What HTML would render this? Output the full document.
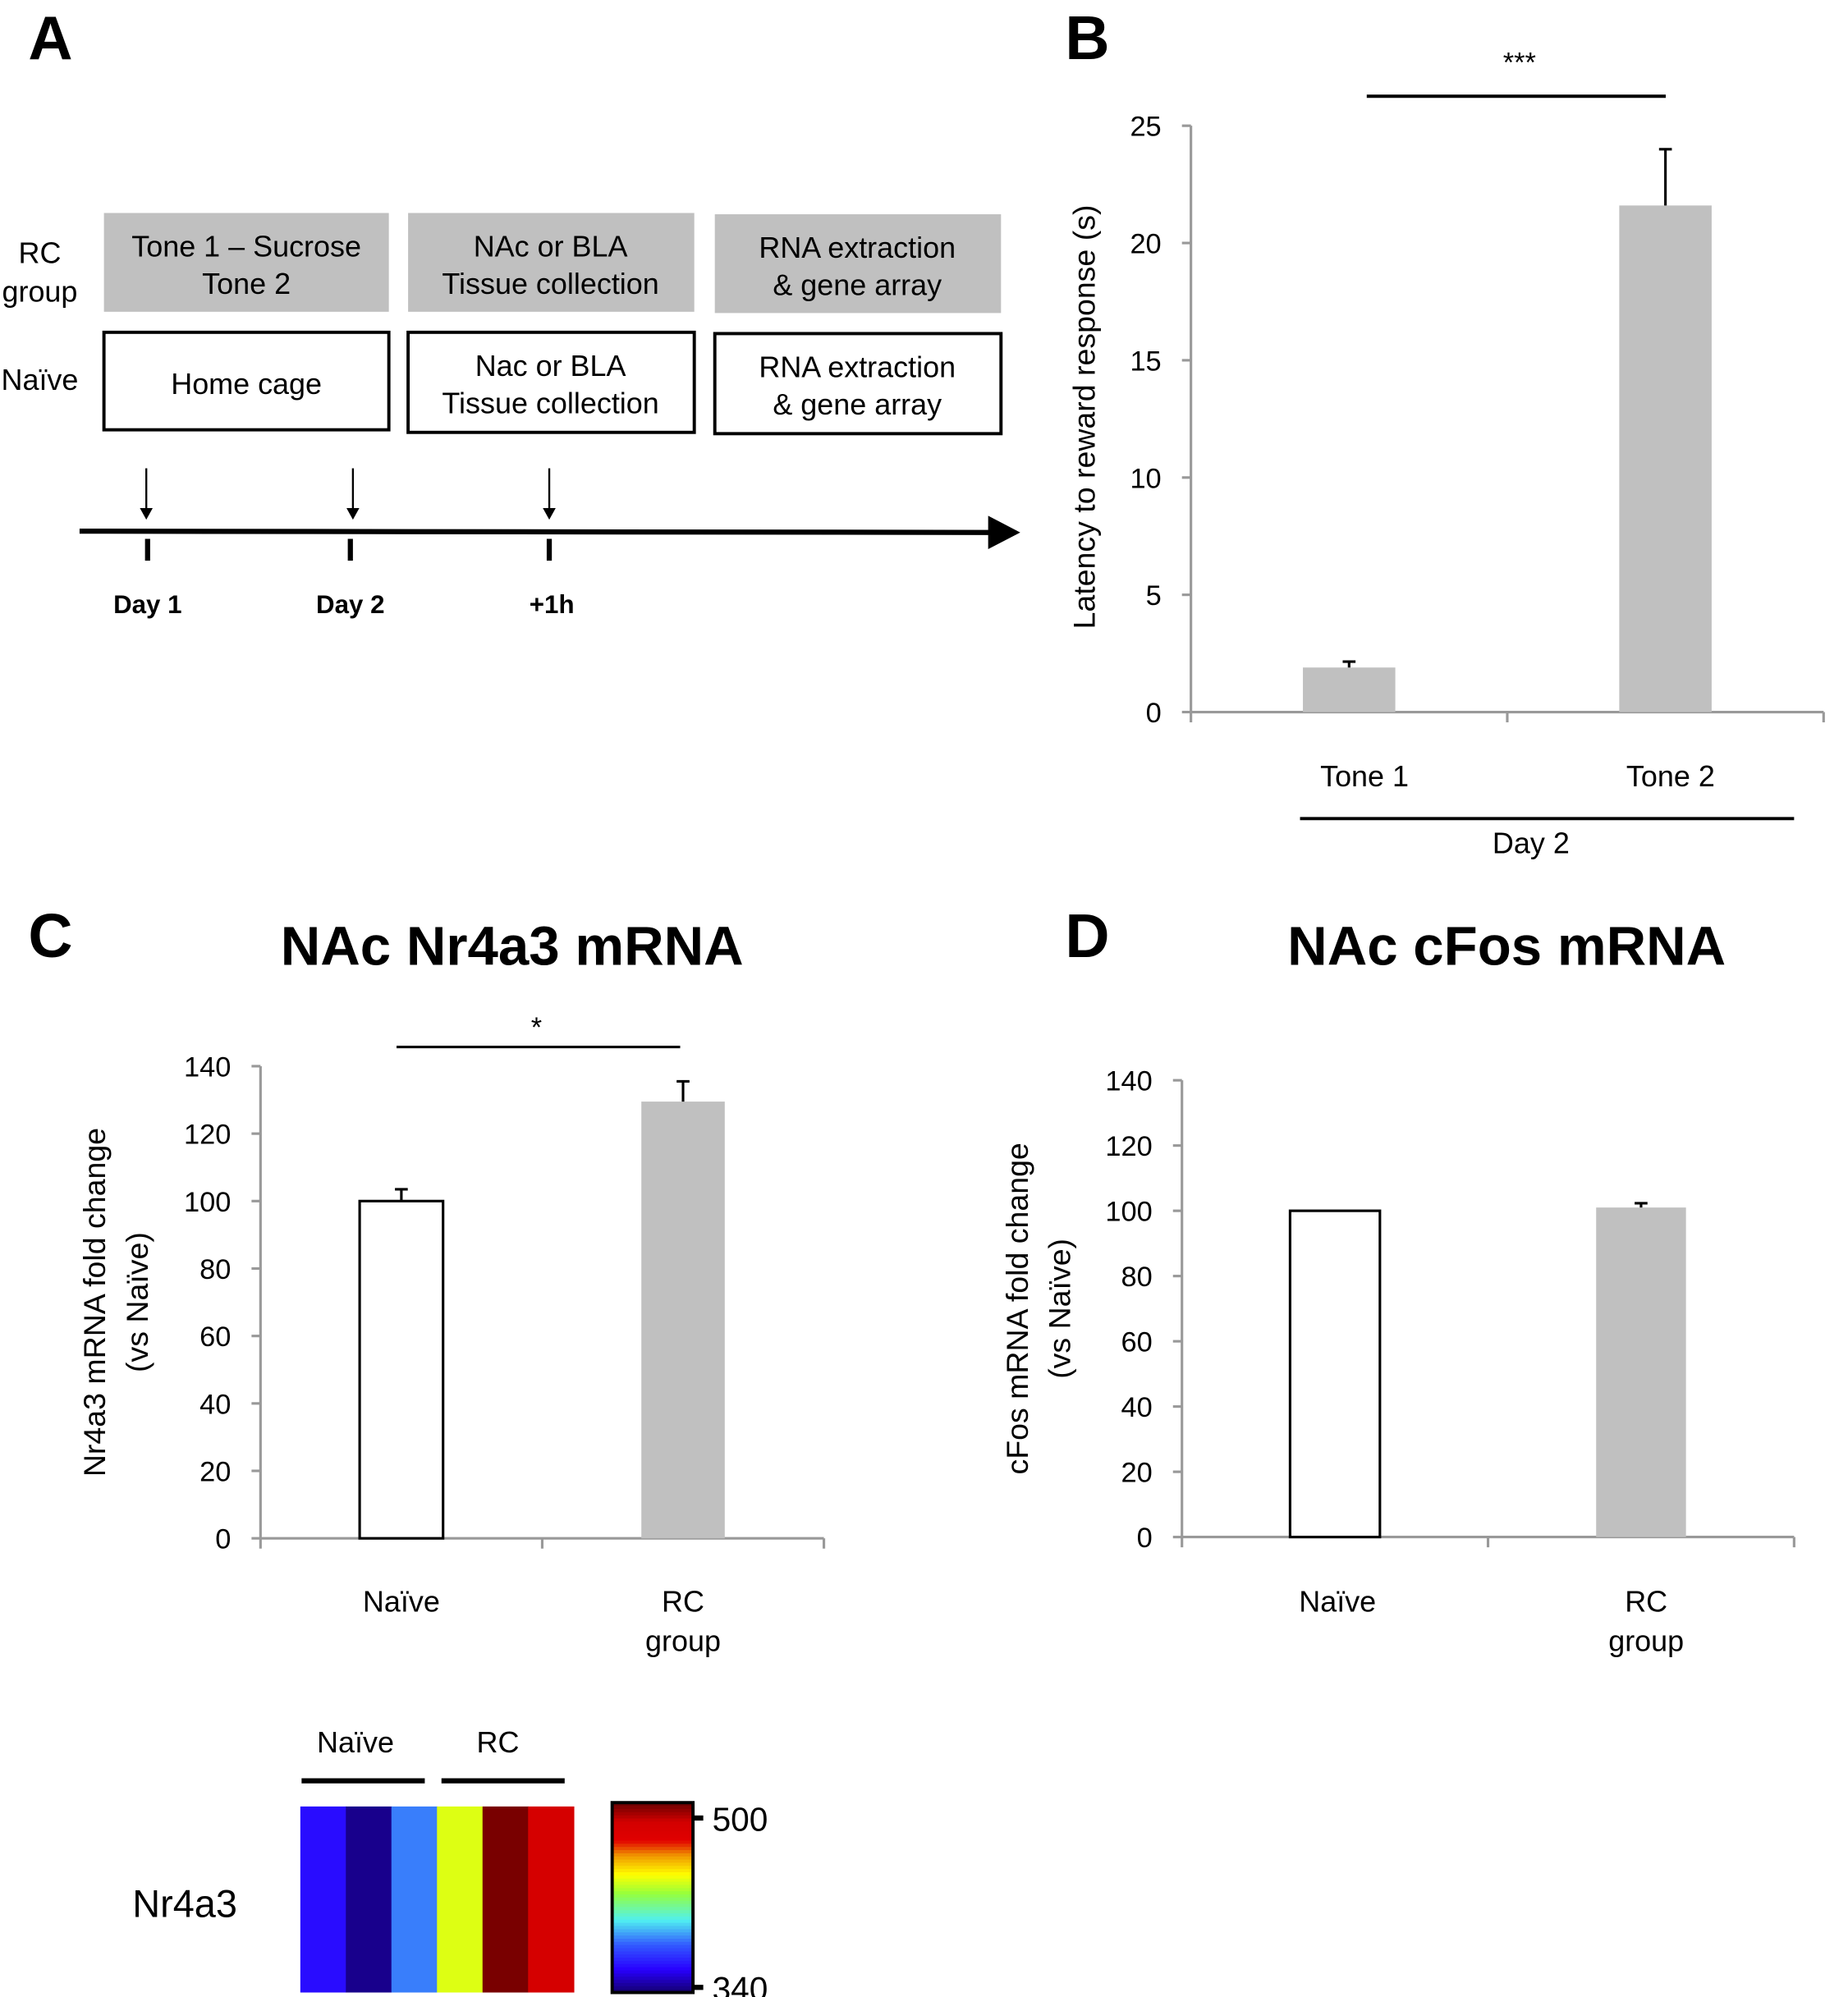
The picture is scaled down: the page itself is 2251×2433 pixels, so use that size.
<!DOCTYPE html>
<html><head><meta charset="utf-8"><style>
html,body{margin:0;padding:0;background:#fff;}
svg{display:block;font-family:"Liberation Sans",sans-serif;}
</style></head><body>
<svg id="fig" width="2251" height="2433" viewBox="0 0 1440 1556.5" preserveAspectRatio="none" xmlns="http://www.w3.org/2000/svg">
<g>
<text x="22" y="46" font-size="48" font-weight="bold">A</text>
<text x="31" y="205" font-size="23" text-anchor="middle">RC</text>
<text x="31" y="235" font-size="23" text-anchor="middle">group</text>
<text x="31" y="304" font-size="23" text-anchor="middle">Naïve</text>
<rect x="81" y="166" width="222" height="77" fill="#c0c0c0"/>
<rect x="318" y="166" width="223" height="77" fill="#c0c0c0"/>
<rect x="557" y="167" width="223" height="77" fill="#c0c0c0"/>
<text x="192" y="200" font-size="23" text-anchor="middle">Tone 1 – Sucrose</text>
<text x="192" y="229" font-size="23" text-anchor="middle">Tone 2</text>
<text x="429" y="200" font-size="23" text-anchor="middle">NAc or BLA</text>
<text x="429" y="229" font-size="23" text-anchor="middle">Tissue collection</text>
<text x="668" y="201" font-size="23" text-anchor="middle">RNA extraction</text>
<text x="668" y="230" font-size="23" text-anchor="middle">&amp; gene array</text>
<rect x="81" y="259" width="222" height="76" fill="#fff" stroke="#000" stroke-width="2.5"/>
<rect x="318" y="259" width="223" height="78" fill="#fff" stroke="#000" stroke-width="2.5"/>
<rect x="557" y="260" width="223" height="78" fill="#fff" stroke="#000" stroke-width="2.5"/>
<text x="192" y="307" font-size="23" text-anchor="middle">Home cage</text>
<text x="429" y="293" font-size="23" text-anchor="middle">Nac or BLA</text>
<text x="429" y="322" font-size="23" text-anchor="middle">Tissue collection</text>
<text x="668" y="294" font-size="23" text-anchor="middle">RNA extraction</text>
<text x="668" y="323" font-size="23" text-anchor="middle">&amp; gene array</text>
<g stroke="#000">
<line x1="62" y1="414" x2="772" y2="415" stroke-width="4"/>
<polygon points="770,402 795,415 770,428" fill="#000" stroke="none"/>
<line x1="115" y1="420" x2="115" y2="437" stroke-width="4"/>
<line x1="273" y1="420" x2="273" y2="437" stroke-width="4"/>
<line x1="428" y1="420" x2="428" y2="437" stroke-width="4"/>
<line x1="114" y1="365" x2="114" y2="398" stroke-width="1.5"/>
<polygon points="109,396 114,405 119,396" fill="#000" stroke="none"/>
<line x1="275" y1="365" x2="275" y2="398" stroke-width="1.5"/>
<polygon points="270,396 275,405 280,396" fill="#000" stroke="none"/>
<line x1="428" y1="365" x2="428" y2="398" stroke-width="1.5"/>
<polygon points="423,396 428,405 433,396" fill="#000" stroke="none"/>
</g>
<text x="115" y="478" font-size="20" font-weight="bold" text-anchor="middle">Day 1</text>
<text x="273" y="478" font-size="20" font-weight="bold" text-anchor="middle">Day 2</text>
<text x="430" y="478" font-size="20" font-weight="bold" text-anchor="middle">+1h</text>
</g>
<text x="830" y="46" font-size="48" font-weight="bold">B</text>
<text x="22" y="746" font-size="48" font-weight="bold">C</text>
<text x="830" y="746" font-size="48" font-weight="bold">D</text>
<text x="399" y="752" font-size="43" font-weight="bold" text-anchor="middle">NAc Nr4a3 mRNA</text>
<text x="1174" y="752" font-size="43" font-weight="bold" text-anchor="middle">NAc cFos mRNA</text>
<g id="gb"></g>
<g id="gc"></g>
<g id="gd"></g>
<g id="gh">
<text x="277" y="1366" font-size="23" text-anchor="middle">Naïve</text>
<text x="388" y="1366" font-size="23" text-anchor="middle">RC</text>
<line x1="235" y1="1388" x2="331" y2="1388" stroke="#000" stroke-width="4"/>
<line x1="344" y1="1388" x2="440" y2="1388" stroke="#000" stroke-width="4"/>
<text x="144" y="1494" font-size="30" text-anchor="middle">Nr4a3</text>
</g>
</svg>
<script>
// Chart B data
const bCategories = ["Tone 1", "Tone 2"];
const bValues = [1.9, 21.6];
const bErrors = [0.25, 2.4];
const bTicks = [0, 5, 10, 15, 20, 25];
// Chart C data
const cCategories = ["Naïve", "RC group"];
const cValues = [100, 129.5];
const cErrors = [3.5, 6];
const cTicks = [0, 20, 40, 60, 80, 100, 120, 140];
// Chart D data
const dCategories = ["Naïve", "RC group"];
const dValues = [100, 101];
const dErrors = [0, 1.3];
const dTicks = [0, 20, 40, 60, 80, 100, 120, 140];
// Heatmap data
const heatSamples = ["Naive1", "Naive2", "Naive3", "RC1", "RC2", "RC3"];
const heatValues = [362, 344, 385, 434, 497, 481];
const heatRange = [340, 500];

const NS = "http://www.w3.org/2000/svg";
function mk(parent, tag, attrs, text) {
  const e = document.createElementNS(NS, tag);
  for (const k in attrs) e.setAttribute(k, attrs[k]);
  if (text !== undefined) e.textContent = text;
  parent.appendChild(e);
  return e;
}
function jet(t) {
  t = Math.max(0, Math.min(1, t));
  const stops = [[0,[20,0,110]],[0.12,[40,0,255]],[0.25,[50,90,255]],[0.38,[80,240,240]],[0.52,[150,255,60]],[0.62,[255,255,0]],[0.72,[240,150,0]],[0.8,[225,0,0]],[0.9,[210,0,0]],[1,[100,0,0]]];
  for (let i = 1; i < stops.length; i++) {
    if (t <= stops[i][0]) {
      const a = stops[i-1], b = stops[i], f = (t - a[0]) / (b[0] - a[0]);
      const c = a[1].map((v, j) => Math.round(v + (b[1][j] - v) * f));
      return `rgb(${c[0]},${c[1]},${c[2]})`;
    }
  }
  return "rgb(100,0,0)";
}

function barChart(g, o) {
  const y = v => o.y0 - (v - o.ticks[0]) / (o.ticks[o.ticks.length-1] - o.ticks[0]) * (o.y0 - o.yTop);
  const n = o.cats.length, slot = (o.xR - o.x0) / n;
  const xC = i => o.x0 + slot * (i + 0.5);
  const axis = mk(g, "line", {x1:o.x0, y1:y(o.ticks[o.ticks.length-1]), x2:o.x0, y2:o.y0, stroke:"#999", "stroke-width":2});
  
  
  const xa = mk(g, "line", {x1:o.x0, y1:o.y0, x2:o.xR, y2:o.y0, stroke:"#999", "stroke-width":2});
  
  
  for (let i = 0; i <= n; i++) {
    const tx = o.x0 + slot * i;
    mk(g, "line", {x1:tx, y1:o.y0, x2:tx, y2:o.y0 + 8, stroke:"#999", "stroke-width":2});
  }
  o.ticks.forEach(t => {
    mk(g, "line", {x1:o.x0 - 7, y1:y(t), x2:o.x0, y2:y(t), stroke:"#999", "stroke-width":2});
    const tl = mk(g, "text", {x:o.x0 - 23, y:y(t) + 8, "font-size":22, "text-anchor":"end"}, String(t));
    
    
  });
  o.vals.forEach((v, i) => {
    const cx = xC(i), w = o.bw;
    const white = o.fills[i] === "white";
    const r = mk(g, "rect", {x:cx - w/2, y:y(v), width:w, height:o.y0 - y(v),
      fill: white ? "#fff" : "#c0c0c0", stroke: white ? "#000" : "none", "stroke-width":2});
    
    
    if (o.errs[i] > 0) {
      const ex = cx;
      const el = mk(g, "path", {d:`M${ex},${y(v)} V${y(v + o.errs[i])} M${ex-5},${y(v + o.errs[i])} H${ex+5}`, stroke:"#000", "stroke-width":2, fill:"none"});
      
      
    }
    const lines = o.oneLine ? [o.cats[i]] : o.cats[i].split(" ");
    lines.forEach((ln, k) => {
      const t = mk(g, "text", {x:cx + o.labOff[i], y:o.labY + k * 31, "font-size":23, "text-anchor":"middle"}, ln);
      
      
    });
  });
  const tt = mk(g, "text", {transform:`translate(${o.titleX},${o.titleY}) rotate(-90)`, "font-size":24, "text-anchor":"middle"});
  
  
  o.title.forEach((ln, k) => { mk(tt, "tspan", {x:0, dy: k === 0 ? 0 : 33}, ln); });
}

(function(){
  const g = document.getElementById("gb");
  barChart(g, {cats:bCategories, vals:bValues, errs:bErrors, ticks:bTicks, fills:["gray","gray"], oneLine:true,
    x0:928, xR:1421, y0:555, yTop:98, bw:72, labY:613, labOff:[12,4], title:["Latency to reward response (s)"],
    titleX:853, titleY:325});
  mk(g, "line", {x1:1065, y1:75, x2:1298, y2:75, stroke:"#000", "stroke-width":2.5});
  mk(g, "text", {x:1184, y:56, "font-size":22, "text-anchor":"middle"}, "***");
  mk(g, "line", {x1:1013, y1:638, x2:1398, y2:638, stroke:"#000", "stroke-width":2.5});
  mk(g, "text", {x:1193, y:665, "font-size":23, "text-anchor":"middle"}, "Day 2");
})();
(function(){
  const g = document.getElementById("gc");
  barChart(g, {cats:cCategories, vals:cValues, errs:cErrors, ticks:cTicks, fills:["white","gray"],
    x0:203, xR:642, y0:1199, yTop:831, bw:65, labY:1256, labOff:[0,0],
    title:["Nr4a3 mRNA fold change","(vs Naïve)"], titleX:82, titleY:1015});
  mk(g, "line", {x1:309, y1:816, x2:530, y2:816, stroke:"#000", "stroke-width":2});
  mk(g, "text", {x:418, y:808, "font-size":22, "text-anchor":"middle"}, "*");
})();
(function(){
  const g = document.getElementById("gd");
  barChart(g, {cats:dCategories, vals:dValues, errs:dErrors, ticks:dTicks, fills:["white","gray"],
    x0:921, xR:1398, y0:1198, yTop:842, bw:70, labY:1256, labOff:[2,4],
    title:["cFos mRNA fold change","(vs Naïve)"], titleX:801, titleY:1020});
})();
(function(){
  const g = document.getElementById("gh");
  const x0 = 234, cw = 35.5, yT = 1408, yB = 1553;
  heatValues.forEach((v, i) => {
    const r = mk(g, "rect", {x:x0 + i*cw, y:yT, width:cw + 0.5, height:yB - yT, fill:jet((v - heatRange[0])/(heatRange[1]-heatRange[0]))});
    
    
  });
  const cbX = 477, cbW = 63, cbT = 1405, cbB = 1553, steps = 60;
  for (let k = 0; k < steps; k++) {
    const t = 1 - (k + 0.5) / steps;
    mk(g, "rect", {x:cbX, y:cbT + k*(cbB-cbT)/steps, width:cbW, height:(cbB-cbT)/steps + 0.6, fill:jet(t)});
  }
  const cb = mk(g, "rect", {x:cbX, y:cbT, width:cbW, height:cbB - cbT, fill:"none", stroke:"#000", "stroke-width":2.5});
  
  
  [[heatRange[1], 1417], [heatRange[0], 1549]].forEach(([v, yy]) => {
    mk(g, "line", {x1:cbX + cbW, y1:yy, x2:cbX + cbW + 8, y2:yy, stroke:"#000", "stroke-width":4});
    const t = mk(g, "text", {x:555, y:yy + 10, "font-size":26}, String(v));
    
    
  });
})();
</script>
</body></html>
